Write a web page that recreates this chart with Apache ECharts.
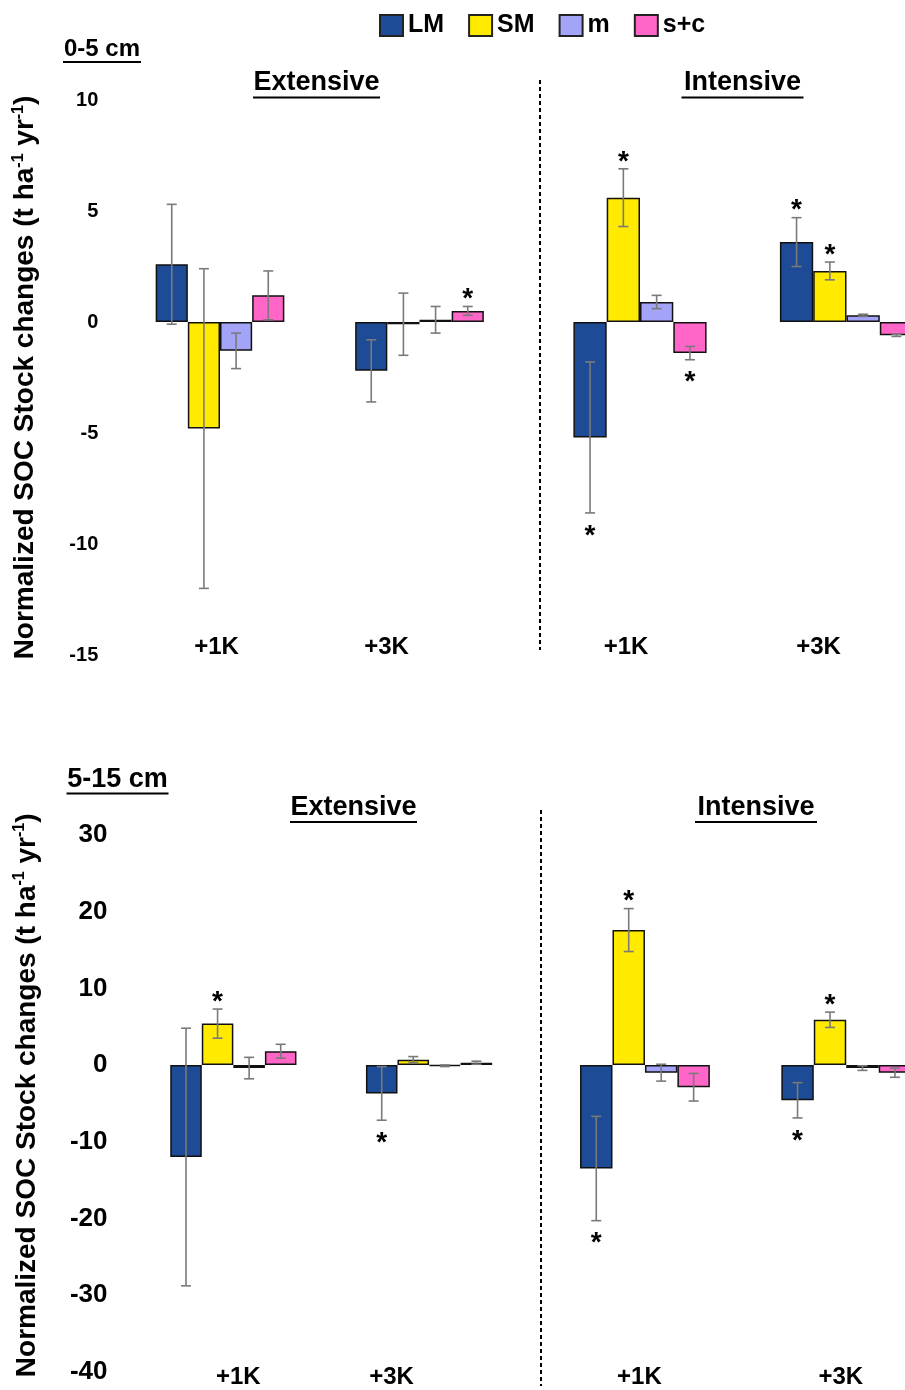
<!DOCTYPE html>
<html><head><meta charset="utf-8">
<script src="https://cdn.jsdelivr.net/npm/echarts@6/dist/echarts.min.js"></script>
<style>html,body{margin:0;padding:0;background:#fff}#c{width:905px;height:1390px}</style>
</head><body><div id="c"></div>
<script>
// ---- data ----
const seriesNames = ['LM', 'SM', 'm', 's+c'];
const categories = ['+1K', '+3K'];
// order in each array: Extensive +1K, Extensive +3K, Intensive +1K, Intensive +3K
// 0-5 cm
const LM_0_5 = [2.6, -2.2, -5.2, 3.6];
const SM_0_5 = [-4.8, -0.1, 5.6, 2.3];
const m_0_5 = [-1.3, 0.1, 0.9, 0.3];
const sc_0_5 = [1.2, 0.5, -1.4, -0.6];
const LM_0_5_err = [2.7, 1.4, 3.4, 1.1];
const SM_0_5_err = [7.2, 1.4, 1.3, 0.4];
const m_0_5_err = [0.8, 0.6, 0.3, 0.05];
const sc_0_5_err = [1.1, 0.2, 0.3, 0.05];
const LM_0_5_sig = [0, 0, -1, 1];
const SM_0_5_sig = [0, 0, 1, 1];
const m_0_5_sig = [0, 0, 0, 0];
const sc_0_5_sig = [0, 1, -1, 0];
// 5-15 cm
const LM_5_15 = [-12.0, -3.7, -13.5, -4.6];
const SM_5_15 = [5.4, 0.7, 17.6, 5.9];
const m_5_15 = [-0.4, -0.1, -1.0, -0.4];
const sc_5_15 = [1.8, 0.3, -2.9, -1.0];
const LM_5_15_err = [16.8, 3.5, 6.8, 2.3];
const SM_5_15_err = [1.9, 0.4, 2.8, 1.0];
const m_5_15_err = [1.4, 0.1, 1.1, 0.3];
const sc_5_15_err = [0.9, 0.2, 1.8, 0.6];
const LM_5_15_sig = [0, -1, -1, -1];
const SM_5_15_sig = [1, 0, 1, 1];
const m_5_15_sig = [0, 0, 0, 0];
const sc_5_15_sig = [0, 0, 0, 0];
// axis ticks
const yTop = {min: -15, max: 10, interval: 5};
const yBot = {min: -40, max: 30, interval: 10};
const panelTitles = ['Extensive', 'Intensive'];
const depthLabels = ['0-5 cm', '5-15 cm'];

// ---- styling / layout ----
const FONT = '"Liberation Sans", Arial, sans-serif';
const colors = ['#1d4b95', '#ffea00', '#a3a3f7', '#ff66c8'];
const GAP = 0.355;

const depthData = [
  {mean: [LM_0_5, SM_0_5, m_0_5, sc_0_5], err: [LM_0_5_err, SM_0_5_err, m_0_5_err, sc_0_5_err], sig: [LM_0_5_sig, SM_0_5_sig, m_0_5_sig, sc_0_5_sig]},
  {mean: [LM_5_15, SM_5_15, m_5_15, sc_5_15], err: [LM_5_15_err, SM_5_15_err, m_5_15_err, sc_5_15_err], sig: [LM_5_15_sig, SM_5_15_sig, m_5_15_sig, sc_5_15_sig]}
];
const panels = [
  {d: 0, off: 0, grid: {left: 120.25, width: 399, top: 100, height: 555}, y: yTop, show: true, labPad: [[0, 7], [0, 66]], labMargin: -20, tickFont: 20, tickMargin: 22, nameGap: 79, namePad: [0, 0, 0, 0]},
  {d: 0, off: 2, grid: {left: 536.75, width: 413, top: 100, height: 555}, y: yTop, show: false, labPad: [[0, 28], [0, 56]], labMargin: -20},
  {d: 1, off: 0, grid: {left: 135.5, width: 391.4, top: 835, height: 536.7}, y: yBot, show: true, labPad: [[10, 0], [0, 75]], labMargin: -6, tickFont: 26, tickMargin: 28, nameGap: 93, namePad: [0, 0, 0, 16]},
  {d: 1, off: 2, grid: {left: 544.3, width: 402.6, top: 835, height: 536.7}, y: yBot, show: false, labPad: [[0, 11], [0, 11]], labMargin: -6}
];

function renderErr(params, api) {
  const cat = api.value(0), k = api.value(1), mean = api.value(2), err = api.value(3), sig = api.value(4);
  const band = api.size([1, 0])[0];
  const bw = band * (1 - GAP) / 4;
  const cx = api.coord([cat, 0])[0] + (k - 1.5) * bw;
  const y1 = api.coord([cat, mean + err])[1];
  const y2 = api.coord([cat, mean - err])[1];
  const cap = 5;
  const st = {stroke: '#7a7a7a', lineWidth: 1.6};
  const children = [
    {type: 'line', shape: {x1: cx, y1: y1, x2: cx, y2: y2}, style: st},
    {type: 'line', shape: {x1: cx - cap, y1: y1, x2: cx + cap, y2: y1}, style: st},
    {type: 'line', shape: {x1: cx - cap, y1: y2, x2: cx + cap, y2: y2}, style: st}
  ];
  if (sig !== 0) {
    const ty = sig > 0 ? y1 - 7 : y2 + 23;
    children.push({type: 'text', style: {text: '*', x: cx, y: ty, align: 'center', verticalAlign: 'middle', fontSize: 28, fontWeight: 'bold', fontFamily: FONT, fill: '#000'}});
  }
  return {type: 'group', children: children};
}

const grids = [], xAxes = [], yAxes = [], series = [];
panels.forEach((p, i) => {
  grids.push(Object.assign({containLabel: false, outerBoundsMode: 'none'}, p.grid));
  const rich = {};
  p.labPad.forEach((pd, j) => {
    rich['p' + j] = {fontSize: 24, fontWeight: 'bold', fontFamily: FONT, color: '#000', padding: [0, pd[1], 0, pd[0]]};
  });
  xAxes.push({
    type: 'category', gridIndex: i, data: categories,
    axisLine: {show: false}, axisTick: {show: false}, splitLine: {show: false},
    axisLabel: {margin: p.labMargin, interval: 0, formatter: (v, idx) => '{p' + idx + '|' + v + '}', rich: rich}
  });
  const ya = {
    type: 'value', gridIndex: i, min: p.y.min, max: p.y.max, interval: p.y.interval,
    axisLine: {show: false}, axisTick: {show: false}, splitLine: {show: false},
    axisLabel: {show: p.show, fontSize: p.tickFont || 20, fontWeight: 'bold', fontFamily: FONT, color: '#000', margin: p.tickMargin || 20}
  };
  if (p.show) {
    ya.name = '{a|Normalized SOC Stock changes (t ha}{b|-1}{a| yr}{b|-1}{a|)}';
    ya.nameLocation = 'middle';
    ya.nameGap = p.nameGap;
    ya.nameTextStyle = {padding: p.namePad, rich: {
      a: {fontSize: 28, fontWeight: 'bold', fontFamily: FONT, color: '#000', lineHeight: 31},
      b: {fontSize: 16, fontWeight: 'bold', fontFamily: FONT, color: '#000', verticalAlign: 'top'}
    }};
  }
  yAxes.push(ya);
  const dd = depthData[p.d];
  for (let k = 0; k < 4; k++) {
    series.push({
      type: 'bar', name: seriesNames[k], xAxisIndex: i, yAxisIndex: i,
      data: dd.mean[k].slice(p.off, p.off + 2),
      barGap: '0%', barCategoryGap: (GAP * 100) + '%',
      itemStyle: {color: colors[k], borderColor: '#111', borderWidth: 1.5},
      emphasis: {disabled: true}, silent: true
    });
  }
  const errData = [];
  for (let c = 0; c < 2; c++) {
    for (let k = 0; k < 4; k++) {
      errData.push([c, k, dd.mean[k][p.off + c], dd.err[k][p.off + c], dd.sig[k][p.off + c]]);
    }
  }
  series.push({type: 'custom', xAxisIndex: i, yAxisIndex: i, renderItem: renderErr, data: errData, encode: {x: 0, y: 2}, z: 10, silent: true});
});

function label(text, cx, cy, size, ulY, ulHalf) {
  return [
    {type: 'text', x: cx, y: cy, style: {text: text, align: 'center', verticalAlign: 'middle', fontSize: size, fontWeight: 'bold', fontFamily: FONT, fill: '#000'}},
    {type: 'line', shape: {x1: cx - ulHalf, y1: ulY, x2: cx + ulHalf, y2: ulY}, style: {stroke: '#000', lineWidth: 2}}
  ];
}

const graphics = [].concat(
  label(depthLabels[0], 102, 49, 24, 62, 39),
  label(panelTitles[0], 316.5, 83, 27, 97.5, 63.5),
  label(panelTitles[1], 742.5, 83, 27, 97.5, 61),
  label(depthLabels[1], 117.5, 780, 27, 793.5, 51),
  label(panelTitles[0], 353.5, 808, 27, 822, 63.5),
  label(panelTitles[1], 756, 808, 27, 822, 61),
  [
    {type: 'line', shape: {x1: 540, y1: 80, x2: 540, y2: 650}, style: {stroke: '#000', lineWidth: 2, lineDash: [4, 3]}},
    {type: 'line', shape: {x1: 541, y1: 810, x2: 541, y2: 1386}, style: {stroke: '#000', lineWidth: 2, lineDash: [4, 3]}}
  ]
);

const chart = echarts.init(document.getElementById('c'), null, {renderer: 'canvas'});
chart.setOption({
  animation: false,
  backgroundColor: '#fff',
  legend: {
    data: seriesNames, top: 13, left: 379, itemWidth: 23, itemHeight: 21, itemGap: 24, padding: 0,
    icon: 'rect',
    itemStyle: {borderColor: '#222', borderWidth: 2},
    textStyle: {fontSize: 25, fontWeight: 'bold', fontFamily: FONT, color: '#000'}
  },
  grid: grids, xAxis: xAxes, yAxis: yAxes, series: series,
  graphic: graphics
});
</script></body></html>
